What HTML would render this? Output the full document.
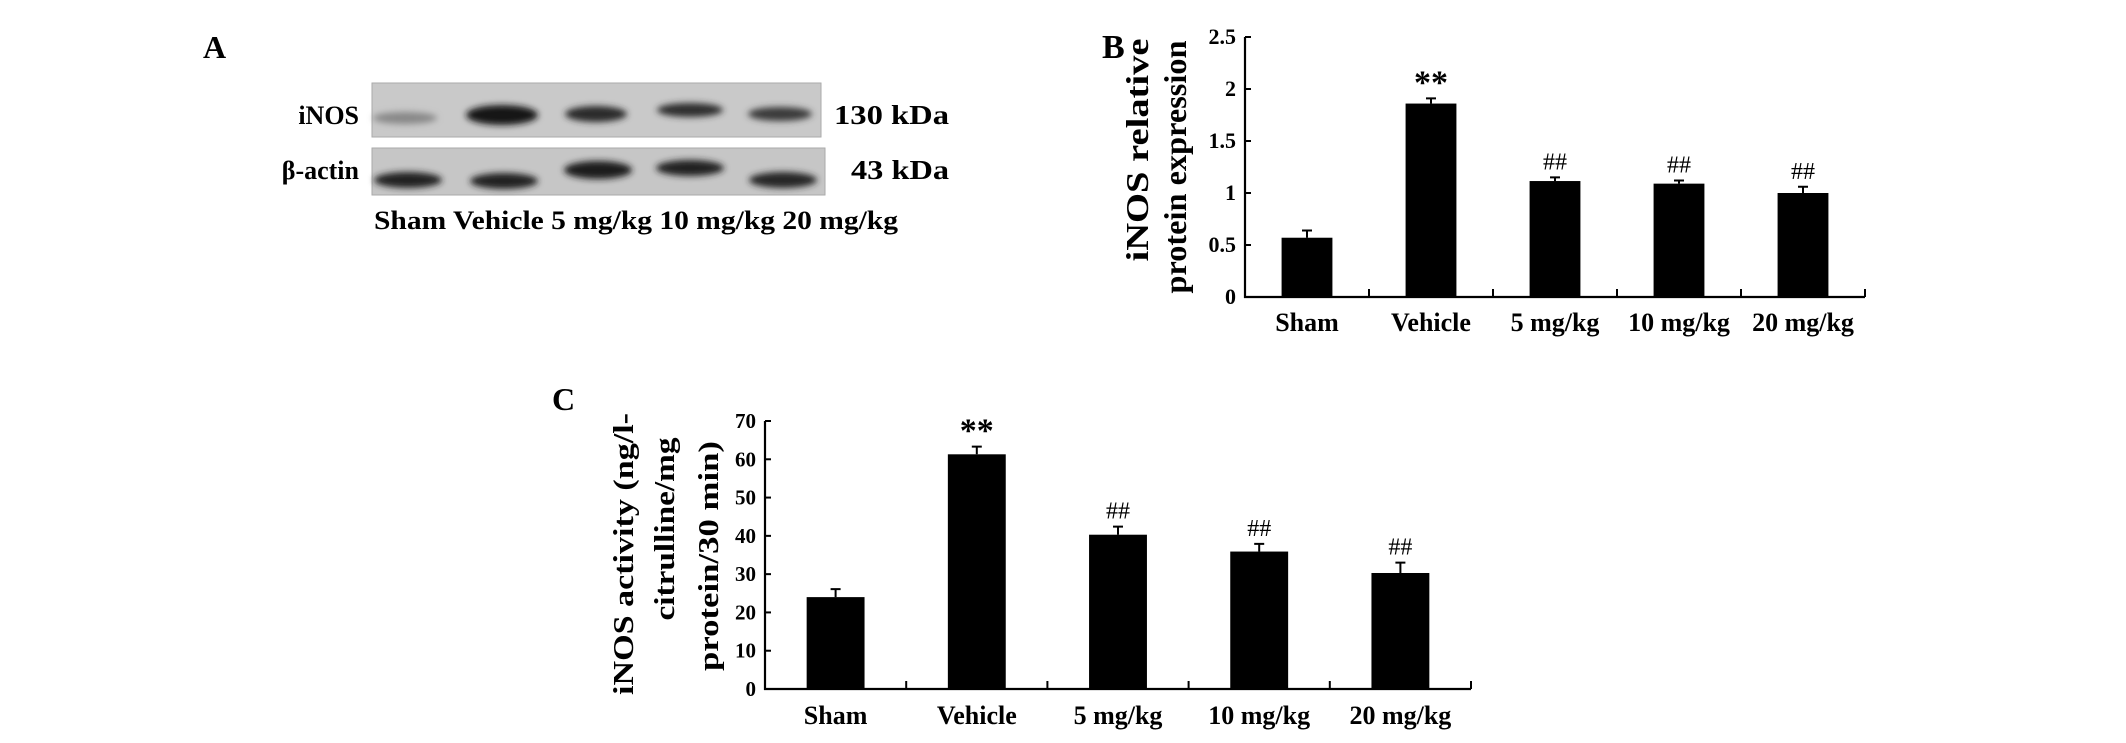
<!DOCTYPE html>
<html><head><meta charset="utf-8"><style>
html,body{margin:0;padding:0;background:#fff;}
svg{display:block;font-family:"Liberation Serif",serif;font-weight:bold;}
</style></head><body>
<svg id="fig" width="2126" height="743" viewBox="0 0 2126 743" xmlns="http://www.w3.org/2000/svg">
<defs>
<filter id="blur" x="-30%" y="-80%" width="160%" height="260%"><feGaussianBlur stdDeviation="3.2"/></filter>
</defs>
<rect width="2126" height="743" fill="#fff"/>
<!-- Panel A -->
<g>
<text x="203" y="58" font-size="32">A</text>
<rect x="372" y="83" width="449" height="54" fill="#c9c9c9" stroke="#aaa"/>
<rect x="372" y="148" width="453" height="47" fill="#c6c6c6" stroke="#aaa"/>
<g filter="url(#blur)">
<ellipse cx="405" cy="118" rx="32" ry="6" fill="#888"/>
<ellipse cx="502" cy="115" rx="36" ry="10" fill="#151515"/>
<ellipse cx="596" cy="114" rx="31" ry="8" fill="#2a2a2a"/>
<ellipse cx="690" cy="110" rx="33" ry="7" fill="#2e2e2e"/>
<ellipse cx="780" cy="114" rx="32" ry="7" fill="#3a3a3a"/>
<ellipse cx="408" cy="180" rx="34" ry="8" fill="#202020"/>
<ellipse cx="504" cy="181" rx="34" ry="8" fill="#202020"/>
<ellipse cx="598" cy="170" rx="34" ry="9" fill="#1e1e1e"/>
<ellipse cx="690" cy="168" rx="34" ry="8" fill="#222"/>
<ellipse cx="783" cy="180" rx="34" ry="8" fill="#262626"/>
</g>
<text x="359" y="124" font-size="26" text-anchor="end">iNOS</text>
<text x="359" y="179" font-size="26" text-anchor="end">β-actin</text>
<text x="834" y="124" font-size="27" textLength="115" lengthAdjust="spacingAndGlyphs">130 kDa</text>
<text x="851" y="179" font-size="27" textLength="98" lengthAdjust="spacingAndGlyphs">43 kDa</text>
<text x="374" y="229" font-size="26" textLength="524" lengthAdjust="spacingAndGlyphs">Sham Vehicle 5 mg/kg 10 mg/kg 20 mg/kg</text>
</g>
<!-- Panel labels / titles -->
<text x="1102" y="58" font-size="34">B</text>
<text transform="translate(1148,150) rotate(-90)" font-size="32" text-anchor="middle" textLength="223" lengthAdjust="spacingAndGlyphs">iNOS relative</text>
<text transform="translate(1186,167) rotate(-90)" font-size="32" text-anchor="middle" textLength="253" lengthAdjust="spacingAndGlyphs">protein expression</text>
<text x="552" y="410" font-size="32">C</text>
<text transform="translate(633,554) rotate(-90)" font-size="28" text-anchor="middle" textLength="282" lengthAdjust="spacingAndGlyphs">iNOS activity (ng/l-</text>
<text transform="translate(674,529) rotate(-90)" font-size="28" text-anchor="middle" textLength="183" lengthAdjust="spacingAndGlyphs">citrulline/mg</text>
<text transform="translate(718,556) rotate(-90)" font-size="28" text-anchor="middle" textLength="230" lengthAdjust="spacingAndGlyphs">protein/30 min)</text>
<g id="chartB"></g>
<g id="chartC"></g>
</svg>
<script>
const categories = ["Sham", "Vehicle", "5 mg/kg", "10 mg/kg", "20 mg/kg"];
const bValues = [0.57, 1.86, 1.115, 1.09, 1.0];
const bErrors = [0.07, 0.05, 0.035, 0.03, 0.06];
const bMarks = ["", "**", "##", "##", "##"];
const bTicks = [0, 0.5, 1, 1.5, 2, 2.5];
const bTickLabels = ["0", "0.5", "1", "1.5", "2", "2.5"];
const cValues = [24.0, 61.3, 40.3, 35.9, 30.3];
const cErrors = [2.1, 2.0, 2.1, 2.0, 2.7];
const cMarks = ["", "**", "##", "##", "##"];
const cTicks = [0, 10, 20, 30, 40, 50, 60, 70];
const cTickLabels = ["0", "10", "20", "30", "40", "50", "60", "70"];

const NS = "http://www.w3.org/2000/svg";
function mk(parent, tag, attrs, text) {
  const e = document.createElementNS(NS, tag);
  for (const k in attrs) e.setAttribute(k, attrs[k]);
  if (text !== undefined) e.textContent = text;
  parent.appendChild(e);
  return e;
}
function drawChart(id, cfg, values, errors, marks, ticks, tickLabels, prefix) {
  const g = document.getElementById(id);
  const yScale = v => cfg.y0 - (v - cfg.min) / (cfg.max - cfg.min) * (cfg.y0 - cfg.yTop);
  const catW = (cfg.x1 - cfg.x0) / categories.length;
  const xCenter = i => cfg.x0 + catW * (i + 0.5);
  const ax = mk(g, "line", {x1: cfg.x0, y1: cfg.yTop, x2: cfg.x0, y2: cfg.y0 + 1, stroke: "#000", "stroke-width": 2.2});
  
  
  const xx = mk(g, "line", {x1: cfg.x0 - 1, y1: cfg.y0, x2: cfg.x1, y2: cfg.y0, stroke: "#000", "stroke-width": 2.2});
  
  
  ticks.forEach((t, i) => {
    const y = yScale(t);
    const tk = mk(g, "line", {x1: cfg.x0, y1: y, x2: cfg.x0 + 6, y2: y, stroke: "#000", "stroke-width": 2});
    
    
    const tl = mk(g, "text", {x: cfg.x0 - 9, y: y + 7, "font-size": cfg.tickFont, "text-anchor": "end"}, tickLabels[i]);
    
    
  });
  categories.forEach((c, i) => {
    const bx = cfg.x0 + catW * (i + 1);
    const xt = mk(g, "line", {x1: bx, y1: cfg.y0, x2: bx, y2: cfg.y0 - 8, stroke: "#000", "stroke-width": 2});
    
    
    const cx = xCenter(i);
    const bw = catW * 0.41;
    const top = yScale(values[i]);
    const bar = mk(g, "rect", {x: cx - bw / 2, y: top, width: bw, height: cfg.y0 - top, fill: "#000"});
    
    
    const et = yScale(values[i] + errors[i]);
    const el = mk(g, "path", {d: `M${cx} ${top} V${et} M${cx - 5} ${et} H${cx + 5}`, stroke: "#000", "stroke-width": 2, fill: "none"});
    
    
    if (marks[i]) {
      const star = marks[i] === "**";
      const m = mk(g, "text", {x: cx, y: et - (star ? 5 : 8), "font-size": star ? 34 : 24, "text-anchor": "middle", "font-weight": star ? "bold" : "normal"}, marks[i]);
      
      
    }
    const lab = mk(g, "text", {x: cx, y: cfg.y0 + cfg.labelDy, "font-size": 26, "text-anchor": "middle"}, c);
    
    
  });
}
drawChart("chartB", {x0: 1245, x1: 1865, y0: 297, yTop: 37, min: 0, max: 2.5, tickFont: 22, labelDy: 34}, bValues, bErrors, bMarks, bTicks, bTickLabels, "b");
drawChart("chartC", {x0: 765, x1: 1471, y0: 689, yTop: 421, min: 0, max: 70, tickFont: 21, labelDy: 35}, cValues, cErrors, cMarks, cTicks, cTickLabels, "c");
</script>
</body></html>
